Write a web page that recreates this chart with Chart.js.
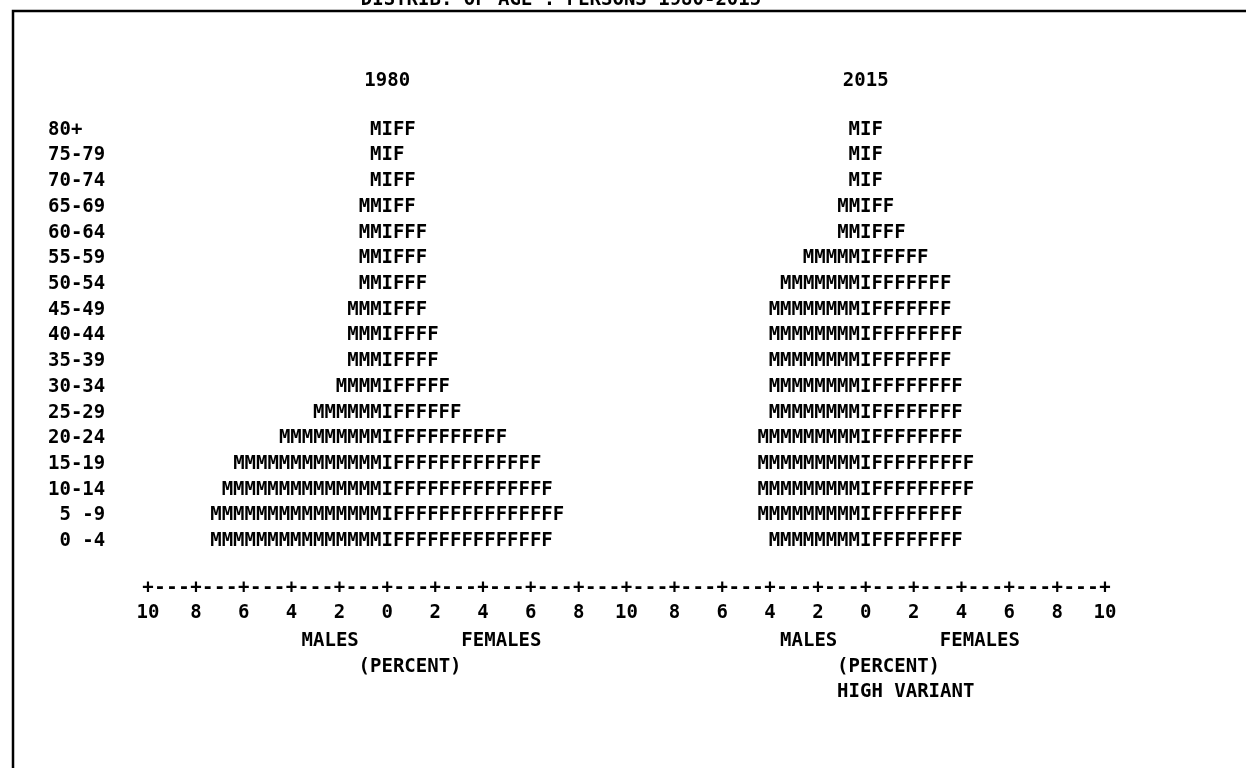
<!DOCTYPE html>
<html>
<head>
<meta charset="utf-8">
<title>Distrib. of age : persons 1980-2015</title>
<script src="https://cdn.jsdelivr.net/npm/chart.js@4.4.0/dist/chart.umd.min.js"></script>
<style>
  html, body { margin: 0; padding: 0; background: #fff; }
  #pyramid { display: block; }
</style>
</head>
<body>
<canvas id="pyramid" width="1246" height="768"></canvas>
<script>
// age groups, oldest at the top as in the printout
var ageGroups = ['80+', '75-79', '70-74', '65-69', '60-64', '55-59', '50-54', '45-49',
                 '40-44', '35-39', '30-34', '25-29', '20-24', '15-19', '10-14', ' 5 -9', ' 0 -4'];

// percent of total population, read against the printed axis
var males1980   = [0.48, 0.48, 0.48, 0.95, 0.95, 0.95, 0.95, 1.43, 1.43, 1.43, 1.91, 2.86, 4.29, 6.20, 6.68, 7.16, 7.16];
var females1980 = [0.95, 0.48, 0.95, 0.95, 1.43, 1.43, 1.43, 1.43, 1.91, 1.91, 2.39, 2.86, 4.77, 6.20, 6.68, 7.16, 6.68];
var males2015   = [0.48, 0.48, 0.48, 0.95, 0.95, 2.39, 3.34, 3.82, 3.82, 3.82, 3.82, 3.82, 4.29, 4.29, 4.29, 4.29, 3.82];
var females2015 = [0.48, 0.48, 0.48, 0.95, 1.43, 2.39, 3.34, 3.34, 3.82, 3.34, 3.82, 3.82, 3.82, 4.29, 4.29, 3.82, 3.82];

var years = ['1980', '2015'];
var tickLabels = ['10', '8', '6', '4', '2', '0', '2', '4', '6', '8', '10',
                  '8', '6', '4', '2', '0', '2', '4', '6', '8', '10'];

var printerFont = "bold 19px 'DejaVu Sans Mono'";
var CELL = 0.477;        // percent covered by one printed character
var centres = [0, 20];   // where each pyramid sits on the shared x scale

function panelSets(males, females, centre) {
    var half = CELL / 2;
    return [
        { glyph: 'M', data: males.map(function (v) { return [centre - half - v, centre - half]; }) },
        { glyph: 'I', data: males.map(function () { return [centre - half, centre + half]; }) },
        { glyph: 'F', data: females.map(function (v) { return [centre + half, centre + half + v]; }) }
    ];
}

var allSets = panelSets(males1980, females1980, centres[0])
    .concat(panelSets(males2015, females2015, centres[1]));
allSets.forEach(function (ds) {
    ds.backgroundColor = 'rgba(0,0,0,0)';
    ds.borderWidth = 0;
});

function text(ctx, s, x, y) {
    ctx.fillText(s, x, y);
}

var printerPlugin = {
    id: 'printer',
    beforeDraw: function (chart) {
        var ctx = chart.ctx;
        ctx.save();
        ctx.fillStyle = '#fff';
        ctx.fillRect(0, 0, chart.width, chart.height);
        // frame: top and left rules
        ctx.strokeStyle = '#000';
        ctx.lineWidth = 2.5;
        ctx.beginPath();
        ctx.moveTo(chart.width, 11);
        ctx.lineTo(13, 11);
        ctx.lineTo(13, chart.height);
        ctx.stroke();
        // heading, cut off by the top of the page
        ctx.font = printerFont;
        ctx.fillStyle = '#000';
        ctx.textAlign = 'center';
        ctx.textBaseline = 'alphabetic';
        text(ctx, 'DISTRIB. OF AGE : PERSONS 1980-2015', 561, 5);
        ctx.restore();
    },
    afterDatasetsDraw: function (chart) {
        var ctx = chart.ctx;
        var xs = chart.scales.x, ys = chart.scales.y;
        var cell = Math.abs(xs.getPixelForValue(CELL) - xs.getPixelForValue(0));
        var pitch = ys.getPixelForValue(1) - ys.getPixelForValue(0);
        var firstRow = ys.getPixelForValue(0);
        var lastRow = ys.getPixelForValue(ageGroups.length - 1);

        ctx.save();
        ctx.font = printerFont;
        ctx.fillStyle = '#000';
        ctx.textAlign = 'center';
        ctx.textBaseline = 'middle';

        // the bars, printed as characters
        chart.data.datasets.forEach(function (ds, i) {
            chart.getDatasetMeta(i).data.forEach(function (bar) {
                var left = Math.min(bar.x, bar.base);
                var n = Math.round(Math.abs(bar.x - bar.base) / cell);
                for (var k = 0; k < n; k++) {
                    text(ctx, ds.glyph, left + cell * (k + 0.5), bar.y);
                }
            });
        });

        // axis rule  +---+---+
        var axisY = lastRow + 2 * pitch - 4;
        for (var v = xs.min; v <= xs.max + 1e-9; v += 0.5) {
            var onTick = Math.abs(v % 2) < 1e-9;
            text(ctx, onTick ? '+' : '-', xs.getPixelForValue(v), axisY);
        }

        // panel headings and axis captions
        centres.forEach(function (c, p) {
            var cx = xs.getPixelForValue(c);
            text(ctx, years[p], cx, firstRow - 2 * pitch + 3);
            text(ctx, 'MALES', cx - 5 * cell, lastRow + 4 * pitch - 3);
            text(ctx, 'FEMALES', cx + 10 * cell, lastRow + 4 * pitch - 3);
            text(ctx, '(PERCENT)', cx + 2 * cell, lastRow + 5 * pitch - 3);
        });
        text(ctx, 'HIGH VARIANT', xs.getPixelForValue(centres[1]) + 3.5 * cell, lastRow + 6 * pitch - 3);
        ctx.restore();
    }
};

var monoFont = { family: "'DejaVu Sans Mono'", size: 19, weight: 'bold' };

var chart = new Chart(document.getElementById('pyramid'), {
    type: 'bar',
    data: {
        labels: ageGroups,
        datasets: allSets
    },
    options: {
        responsive: false,
        animation: false,
        devicePixelRatio: 1,
        indexAxis: 'y',
        layout: { padding: { left: 48, right: 141, top: 117, bottom: 0 } },
        datasets: { bar: { grouped: false, categoryPercentage: 1, barPercentage: 1 } },
        plugins: {
            legend: { display: false },
            tooltip: { enabled: false },
            title: { display: false }
        },
        scales: {
            x: {
                type: 'linear',
                min: -10,
                max: 30,
                afterFit: function (axis) { axis.height = 214; },
                grid: { display: false, drawTicks: false },
                border: { display: false },
                ticks: {
                    stepSize: 2,
                    autoSkip: false,
                    maxRotation: 0,
                    padding: 48,
                    color: '#000',
                    font: monoFont,
                    callback: function (value, index) { return tickLabels[index]; }
                }
            },
            y: {
                afterFit: function (axis) { axis.width = 100; },
                grid: { display: false, drawTicks: false },
                border: { display: false },
                ticks: {
                    crossAlign: 'far',
                    padding: 0,
                    autoSkip: false,
                    color: '#000',
                    font: monoFont
                }
            }
        }
    },
    plugins: [printerPlugin]
});
</script>
</body>
</html>
